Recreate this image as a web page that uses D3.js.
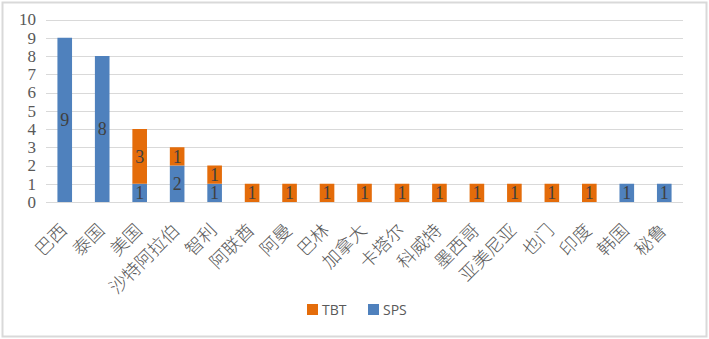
<!DOCTYPE html>
<html>
<head>
<meta charset="utf-8">
<script src="https://cdn.jsdelivr.net/npm/d3@7/dist/d3.min.js"></script>
<style>
  html, body { margin: 0; padding: 0; background: #fff; }
  svg { display: block; }
</style>
</head>
<body>
<svg id="chart" width="709" height="339"></svg>
<script>
// Notifications by country, split by measure type
const categories = ["巴西", "泰国", "美国", "沙特阿拉伯", "智利", "阿联酋", "阿曼", "巴林", "加拿大",
  "卡塔尔", "科威特", "墨西哥", "亚美尼亚", "也门", "印度", "韩国", "秘鲁"];
const sps = [9, 8, 1, 2, 1, 0, 0, 0, 0, 0, 0, 0, 0, 0, 0, 1, 1];
const tbt = [0, 0, 3, 1, 1, 1, 1, 1, 1, 1, 1, 1, 1, 1, 1, 0, 0];
const yTicks = [0, 1, 2, 3, 4, 5, 6, 7, 8, 9, 10];
const seriesNames = ["SPS", "TBT"];
const colors = { SPS: "#4F81BD", TBT: "#E46C0A" };

(function () {
  const svg = d3.select("#chart");
  const W = 709, H = 339;

  // chart frame
  svg.append("rect")
    .attr("x", 2.5).attr("y", 2.5).attr("width", W - 5).attr("height", H - 5)
    .attr("fill", "#fff").attr("stroke", "#D9D9D9").attr("stroke-width", 2);

  const plotLeft = 46, plotRight = 683, plotTop = 19.5, plotBottom = 202;

  const x = d3.scaleBand().domain(categories).range([plotLeft, plotRight]).paddingInner(0.61).paddingOuter(0.305);
  const y = d3.scaleLinear().domain([0, 10]).range([plotBottom, plotTop]);

  // gridlines
  svg.append("g").selectAll("line").data(yTicks).join("line")
    .attr("x1", plotLeft).attr("x2", plotRight)
    .attr("y1", d => Math.round(y(d)) + 0.5).attr("y2", d => Math.round(y(d)) + 0.5)
    .attr("stroke", "#D9D9D9").attr("stroke-width", 1);

  // y axis labels
  const yAxis = d3.axisLeft(y).tickValues(yTicks).tickSize(0).tickPadding(6);
  const gy = svg.append("g").attr("transform", `translate(${plotLeft - 4},0)`).call(yAxis);
  gy.select(".domain").remove();
  gy.selectAll("text")
    .attr("font-family", "'Liberation Serif', 'DejaVu Serif', serif")
    .attr("font-size", 17).attr("fill", "#595959");

  // stacked data
  const rows = categories.map((c, i) => ({ cat: c, SPS: sps[i], TBT: tbt[i] }));
  const stack = d3.stack().keys(seriesNames)(rows);

  const layers = svg.append("g").selectAll("g").data(stack).join("g")
    .attr("fill", d => colors[d.key]);

  layers.selectAll("rect").data(d => d.filter(s => s[1] - s[0] > 0)).join("rect")
    .attr("x", d => x(d.data.cat))
    .attr("width", x.bandwidth())
    .attr("y", d => y(d[1]))
    .attr("height", d => y(d[0]) - y(d[1]));

  // value labels in the middle of each segment
  layers.selectAll("text").data(d => d.filter(s => s[1] - s[0] > 0)).join("text")
    .attr("x", d => x(d.data.cat) + x.bandwidth() / 2)
    .attr("y", d => y((d[0] + d[1]) / 2))
    .attr("dy", "0.36em")
    .attr("text-anchor", "middle")
    .attr("font-family", "'Liberation Serif', 'DejaVu Serif', serif")
    .attr("font-size", 18).attr("fill", "#404040")
    .text(d => d[1] - d[0]);

  // category labels, rotated
  svg.append("g").selectAll("text").data(categories).join("text")
    .attr("transform", d => `translate(${x(d) + x.bandwidth() / 2 - 1},${plotBottom + 25}) rotate(-45)`)
    .attr("text-anchor", "end")
    .attr("dy", "0.35em")
    .attr("font-family", "'Noto Sans CJK SC', sans-serif")
    .attr("font-weight", 300)
    .attr("font-size", 18).attr("fill", "#595959")
    .text(d => d);

  // legend
  const legendItems = [{ key: "TBT", x: 307 }, { key: "SPS", x: 368 }];
  const lg = svg.append("g").selectAll("g").data(legendItems).join("g")
    .attr("transform", d => `translate(${d.x},304)`);
  lg.append("rect").attr("width", 11).attr("height", 11).attr("fill", d => colors[d.key]);
  lg.append("text").attr("x", 15).attr("y", 6).attr("dy", "0.36em")
    .attr("font-family", "'Open Sans', 'Liberation Sans', sans-serif")
    .attr("font-size", 14).attr("fill", "#595959")
    .text(d => d.key);
})();
</script>
</body>
</html>
